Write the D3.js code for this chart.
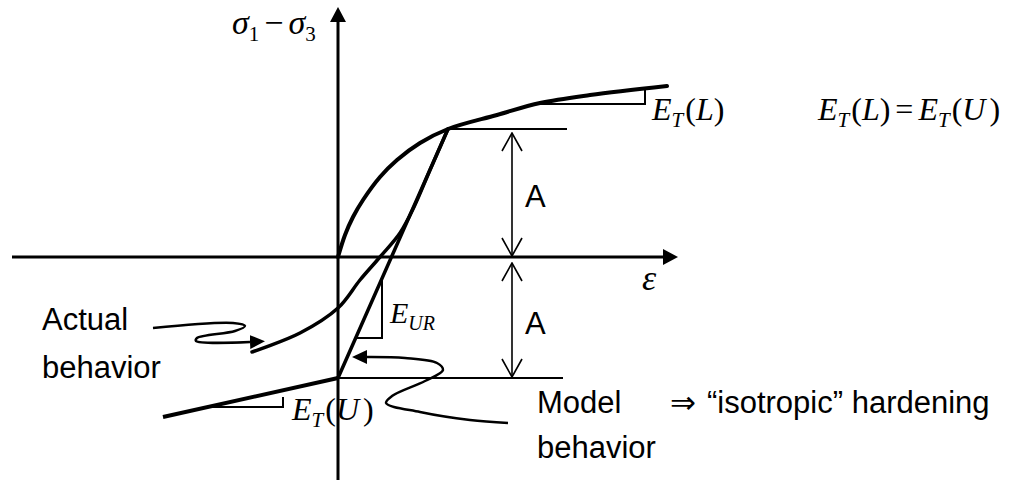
<!DOCTYPE html>
<html>
<head>
<meta charset="utf-8">
<script src="https://cdn.jsdelivr.net/npm/d3@7"></script>
<style>
body { margin: 0; background: #fff; }
</style>
</head>
<body>
<script>
var W = 1023, H = 480;

// diagram units: strain (x) and stress difference (y)
var x = d3.scaleLinear().domain([-33.8, 68.5]).range([0, W]);
var y = d3.scaleLinear().domain([25.7, -22.3]).range([0, H]);

var xAxisEnds = [[-32.6, 0], [32.5, 0]];
var yAxisEnds = [[0, -22.3], [0, 23.5]];

var loading = [[0, 0], [0.7, 2.2], [1.5, 4.0], [2.5, 5.7], [4.2, 8.0], [5.9, 9.7], [8.2, 11.4],
    [11.0, 12.8], [15.9, 14.2], [20.2, 15.4], [25.2, 16.2], [32.9, 17.1]];
var unloading = [[11.0, 12.8], [9.2, 8.7], [7.6, 5.0], [6.2, 2.4], [4.2, 0], [2.2, -2.3],
    [0, -5.1], [-3.8, -7.6], [-8.6, -9.5]];
var modelUnload = [[11.0, 12.8], [0, -12.1]];
var modelReload = [[0, -12.1], [-17.5, -16.0]];

var upperRef = [[11.0, 12.8], [22.9, 12.8]];
var lowerRef = [[0, -12.1], [22.5, -12.1]];
var upperA = [[17.4, 12.4], [17.4, 0.1]];
var lowerA = [[17.4, -0.6], [17.4, -12.0]];

var slopeL = [[20.2, 15.3], [30.7, 15.3], [30.7, 16.85]];
var slopeU = [[-13.0, -15.0], [-5.5, -15.0], [-5.5, -14.0]];
var slopeUR = [[1.77, -8.1], [4.4, -8.1], [4.4, -2.14]];

var actualPointer = [[-18.5, -7.1], [-10.5, -6.6], [-9.3, -6.9], [-10.3, -7.4], [-14.1, -8.1],
    [-14.2, -8.4], [-8.8, -8.5]];
var modelPointer = [[17.0, -16.6], [13.2, -16.3], [8.2, -15.5], [4.8, -14.6], [5.4, -13.9],
    [8.7, -12.4], [10.5, -11.3], [9.9, -10.6], [6.7, -10.1], [2.9, -10.0]];

var svg = d3.select('body')
    .append('svg')
    .attr('width', W)
    .attr('height', H);

var defs = svg.append('defs');

function solidHead(id, len, half) {
    defs.append('marker')
        .attr('id', id)
        .attr('markerUnits', 'userSpaceOnUse')
        .attr('viewBox', '0 0 ' + len + ' ' + (2 * half))
        .attr('markerWidth', len)
        .attr('markerHeight', 2 * half)
        .attr('refX', 0)
        .attr('refY', half)
        .attr('orient', 'auto')
        .append('path')
        .attr('d', 'M0,0L' + len + ',' + half + 'L0,' + (2 * half) + 'Z')
        .attr('fill', '#000');
}
solidHead('axisHead', 15, 8);
solidHead('pointHead', 15, 7);

defs.append('marker')
    .attr('id', 'openHead')
    .attr('markerUnits', 'userSpaceOnUse')
    .attr('viewBox', '-1 -1 20 22')
    .attr('markerWidth', 20)
    .attr('markerHeight', 22)
    .attr('refX', 18)
    .attr('refY', 10)
    .attr('orient', 'auto-start-reverse')
    .append('path')
    .attr('d', 'M0,0L18,10L0,20')
    .attr('fill', 'none')
    .attr('stroke', '#000')
    .attr('stroke-width', 1.6);

var line = d3.line()
    .x(function(d) { return x(d[0]); })
    .y(function(d) { return y(d[1]); });

var smooth = d3.line()
    .x(function(d) { return x(d[0]); })
    .y(function(d) { return y(d[1]); })
    .curve(d3.curveCatmullRom.alpha(0.5));

function draw(gen, data, width) {
    return svg.append('path')
        .attr('d', gen(data))
        .attr('fill', 'none')
        .attr('stroke', '#000')
        .attr('stroke-width', width);
}

// axes
draw(line, xAxisEnds, 3).attr('marker-end', 'url(#axisHead)');
draw(line, yAxisEnds, 3).attr('marker-end', 'url(#axisHead)');

// reference lines and A dimensions
draw(line, upperRef, 2);
draw(line, lowerRef, 2);
draw(line, upperA, 1.6).attr('marker-start', 'url(#openHead)').attr('marker-end', 'url(#openHead)');
draw(line, lowerA, 1.6).attr('marker-start', 'url(#openHead)').attr('marker-end', 'url(#openHead)');

// slope triangles
draw(line, slopeL, 2);
draw(line, slopeU, 2);
draw(line, slopeUR, 2);

// behaviour curves
draw(smooth, loading, 4).attr('stroke-linecap', 'round');
draw(smooth, unloading, 3.5).attr('stroke-linecap', 'round');
draw(line, modelUnload, 3.5).attr('stroke-linecap', 'round');
draw(line, modelReload, 4);

// pointers
draw(smooth, actualPointer, 2.5).attr('marker-end', 'url(#pointHead)');
draw(smooth, modelPointer, 2.5).attr('marker-end', 'url(#pointHead)');

// labels
var serif = 'Liberation Serif, Times New Roman, serif';
var sans = 'Liberation Sans, Arial, sans-serif';

function mathLabel(pos, parts, size) {
    var t = svg.append('text')
        .attr('x', x(pos[0]))
        .attr('y', y(pos[1]))
        .attr('font-family', serif)
        .attr('font-size', size);
    var low = false;
    parts.forEach(function(p) {
        var s = t.append('tspan').text(p.t);
        if (p.i) s.attr('font-style', 'italic');
        if (p.sub && !low) { s.attr('dy', 7); low = true; }
        else if (!p.sub && low) { s.attr('dy', -7); low = false; }
        if (p.sub) s.attr('font-size', 21);
        if (p.size) s.attr('font-size', p.size);
        if (p.dx) s.attr('dx', p.dx);
    });
    return t;
}

function plainLabel(pos, str) {
    svg.append('text')
        .attr('x', x(pos[0]))
        .attr('y', y(pos[1]))
        .attr('font-family', sans)
        .attr('font-size', 31)
        .text(str);
}

mathLabel([-10.6, 22.3], [{t: 'σ', i: 1}, {t: '1', sub: 1}, {t: '−', dx: 5},
    {t: 'σ', i: 1, dx: 5}, {t: '3', sub: 1}], 34);
mathLabel([30.4, -3.3], [{t: 'ε', i: 1}], 36);
mathLabel([31.4, 13.7], [{t: 'E', i: 1}, {t: 'T', i: 1, sub: 1}, {t: '(', dx: 2}, {t: 'L', i: 1}, {t: ')'}], 32);
mathLabel([48.0, 13.7], [{t: 'E', i: 1}, {t: 'T', i: 1, sub: 1}, {t: '(', dx: 2}, {t: 'L', i: 1}, {t: ')'},
    {t: '=', dx: 5}, {t: 'E', i: 1, dx: 5}, {t: 'T', i: 1, sub: 1}, {t: '(', dx: 2}, {t: 'U', i: 1},
    {t: ')', dx: 4}], 32);
mathLabel([5.2, -6.6], [{t: 'E', i: 1}, {t: 'UR', i: 1, sub: 1, size: 20}], 30);
mathLabel([-4.6, -16.3], [{t: 'E', i: 1}, {t: 'T', i: 1, sub: 1}, {t: '(', dx: 2}, {t: 'U', i: 1},
    {t: ')', dx: 4}], 32);

plainLabel([18.7, 5.0], 'A');
plainLabel([18.7, -7.7], 'A');
plainLabel([-29.6, -7.3], 'Actual');
plainLabel([-29.6, -12.1], 'behavior');
plainLabel([19.9, -15.6], 'Model');
plainLabel([19.9, -20.1], 'behavior');

var hard = svg.append('text')
    .attr('x', x(33.2))
    .attr('y', y(-15.6))
    .attr('font-family', sans)
    .attr('font-size', 31);
hard.append('tspan').attr('font-family', 'DejaVu Sans').attr('font-size', 31).text('⇒');
hard.append('tspan').attr('dx', 11).text('“isotropic” hardening');
</script>
</body>
</html>
